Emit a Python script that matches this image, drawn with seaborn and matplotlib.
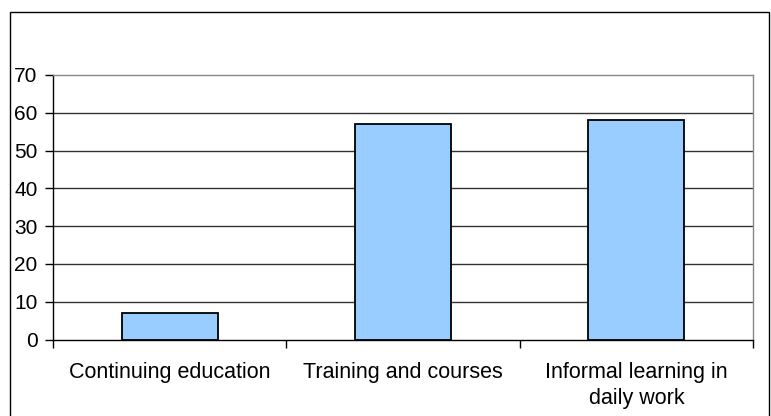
import matplotlib
matplotlib.use('Agg')
import matplotlib.pyplot as plt
from matplotlib.patches import Rectangle
import pandas as pd
import seaborn as sns

categories = ['Continuing education', 'Training and courses', 'Informal learning in\ndaily work']
values = [7, 57, 58]
yticks = [0, 10, 20, 30, 40, 50, 60, 70]

df = pd.DataFrame({'category': categories, 'value': values})

sns.set_style('white')
plt.rcParams['font.family'] = ['Liberation Sans', 'DejaVu Sans']
plt.rcParams['text.color'] = 'black'
plt.rcParams['xtick.color'] = 'black'
plt.rcParams['ytick.color'] = 'black'

fig = plt.figure(figsize=(7.71, 4.16), dpi=100)
ax = fig.add_axes([53 / 771, 1 - 339.5 / 416, 700 / 771, 264.5 / 416])

# outer chart frame (bottom edge runs off the picture)
fig.patches.append(Rectangle((10 / 771, -0.05), 759 / 771, 1.05 - 12 / 416,
                             transform=fig.transFigure, fill=False,
                             edgecolor='black', linewidth=1.0, clip_on=False))

sns.barplot(data=df, x='category', y='value', color='#99CCFF', saturation=1,
            width=0.41, edgecolor='black', linewidth=1.3, ax=ax, zorder=3)

ax.set_ylim(0, 70)
ax.set_xlim(-0.5, 2.5)
ax.set_yticks(yticks)
ax.set_xlabel('')
ax.set_ylabel('')

for y in yticks[1:-1]:
    ax.axhline(y, color='#333333', linewidth=1.0, zorder=1)

ax.spines['top'].set_color('#888888')
ax.spines['right'].set_color('#888888')
for side in ['left', 'bottom']:
    ax.spines[side].set_color('black')
for side in ax.spines:
    ax.spines[side].set_linewidth(1.0)

ax.tick_params(axis='y', which='major', left=True, length=6, width=1.0,
               color='black', pad=5, labelsize=15)
ax.tick_params(axis='x', which='major', bottom=False, length=0, pad=16,
               labelsize=15.5)
ax.set_xticks([-0.5, 0.5, 1.5, 2.5], minor=True)
ax.tick_params(axis='x', which='minor', bottom=True, length=6, width=1.0,
               color='black')
for lbl in ax.get_xticklabels():
    lbl.set_linespacing(1.3)
    lbl.set_va('top')

fig.savefig('out.png', dpi=100)
